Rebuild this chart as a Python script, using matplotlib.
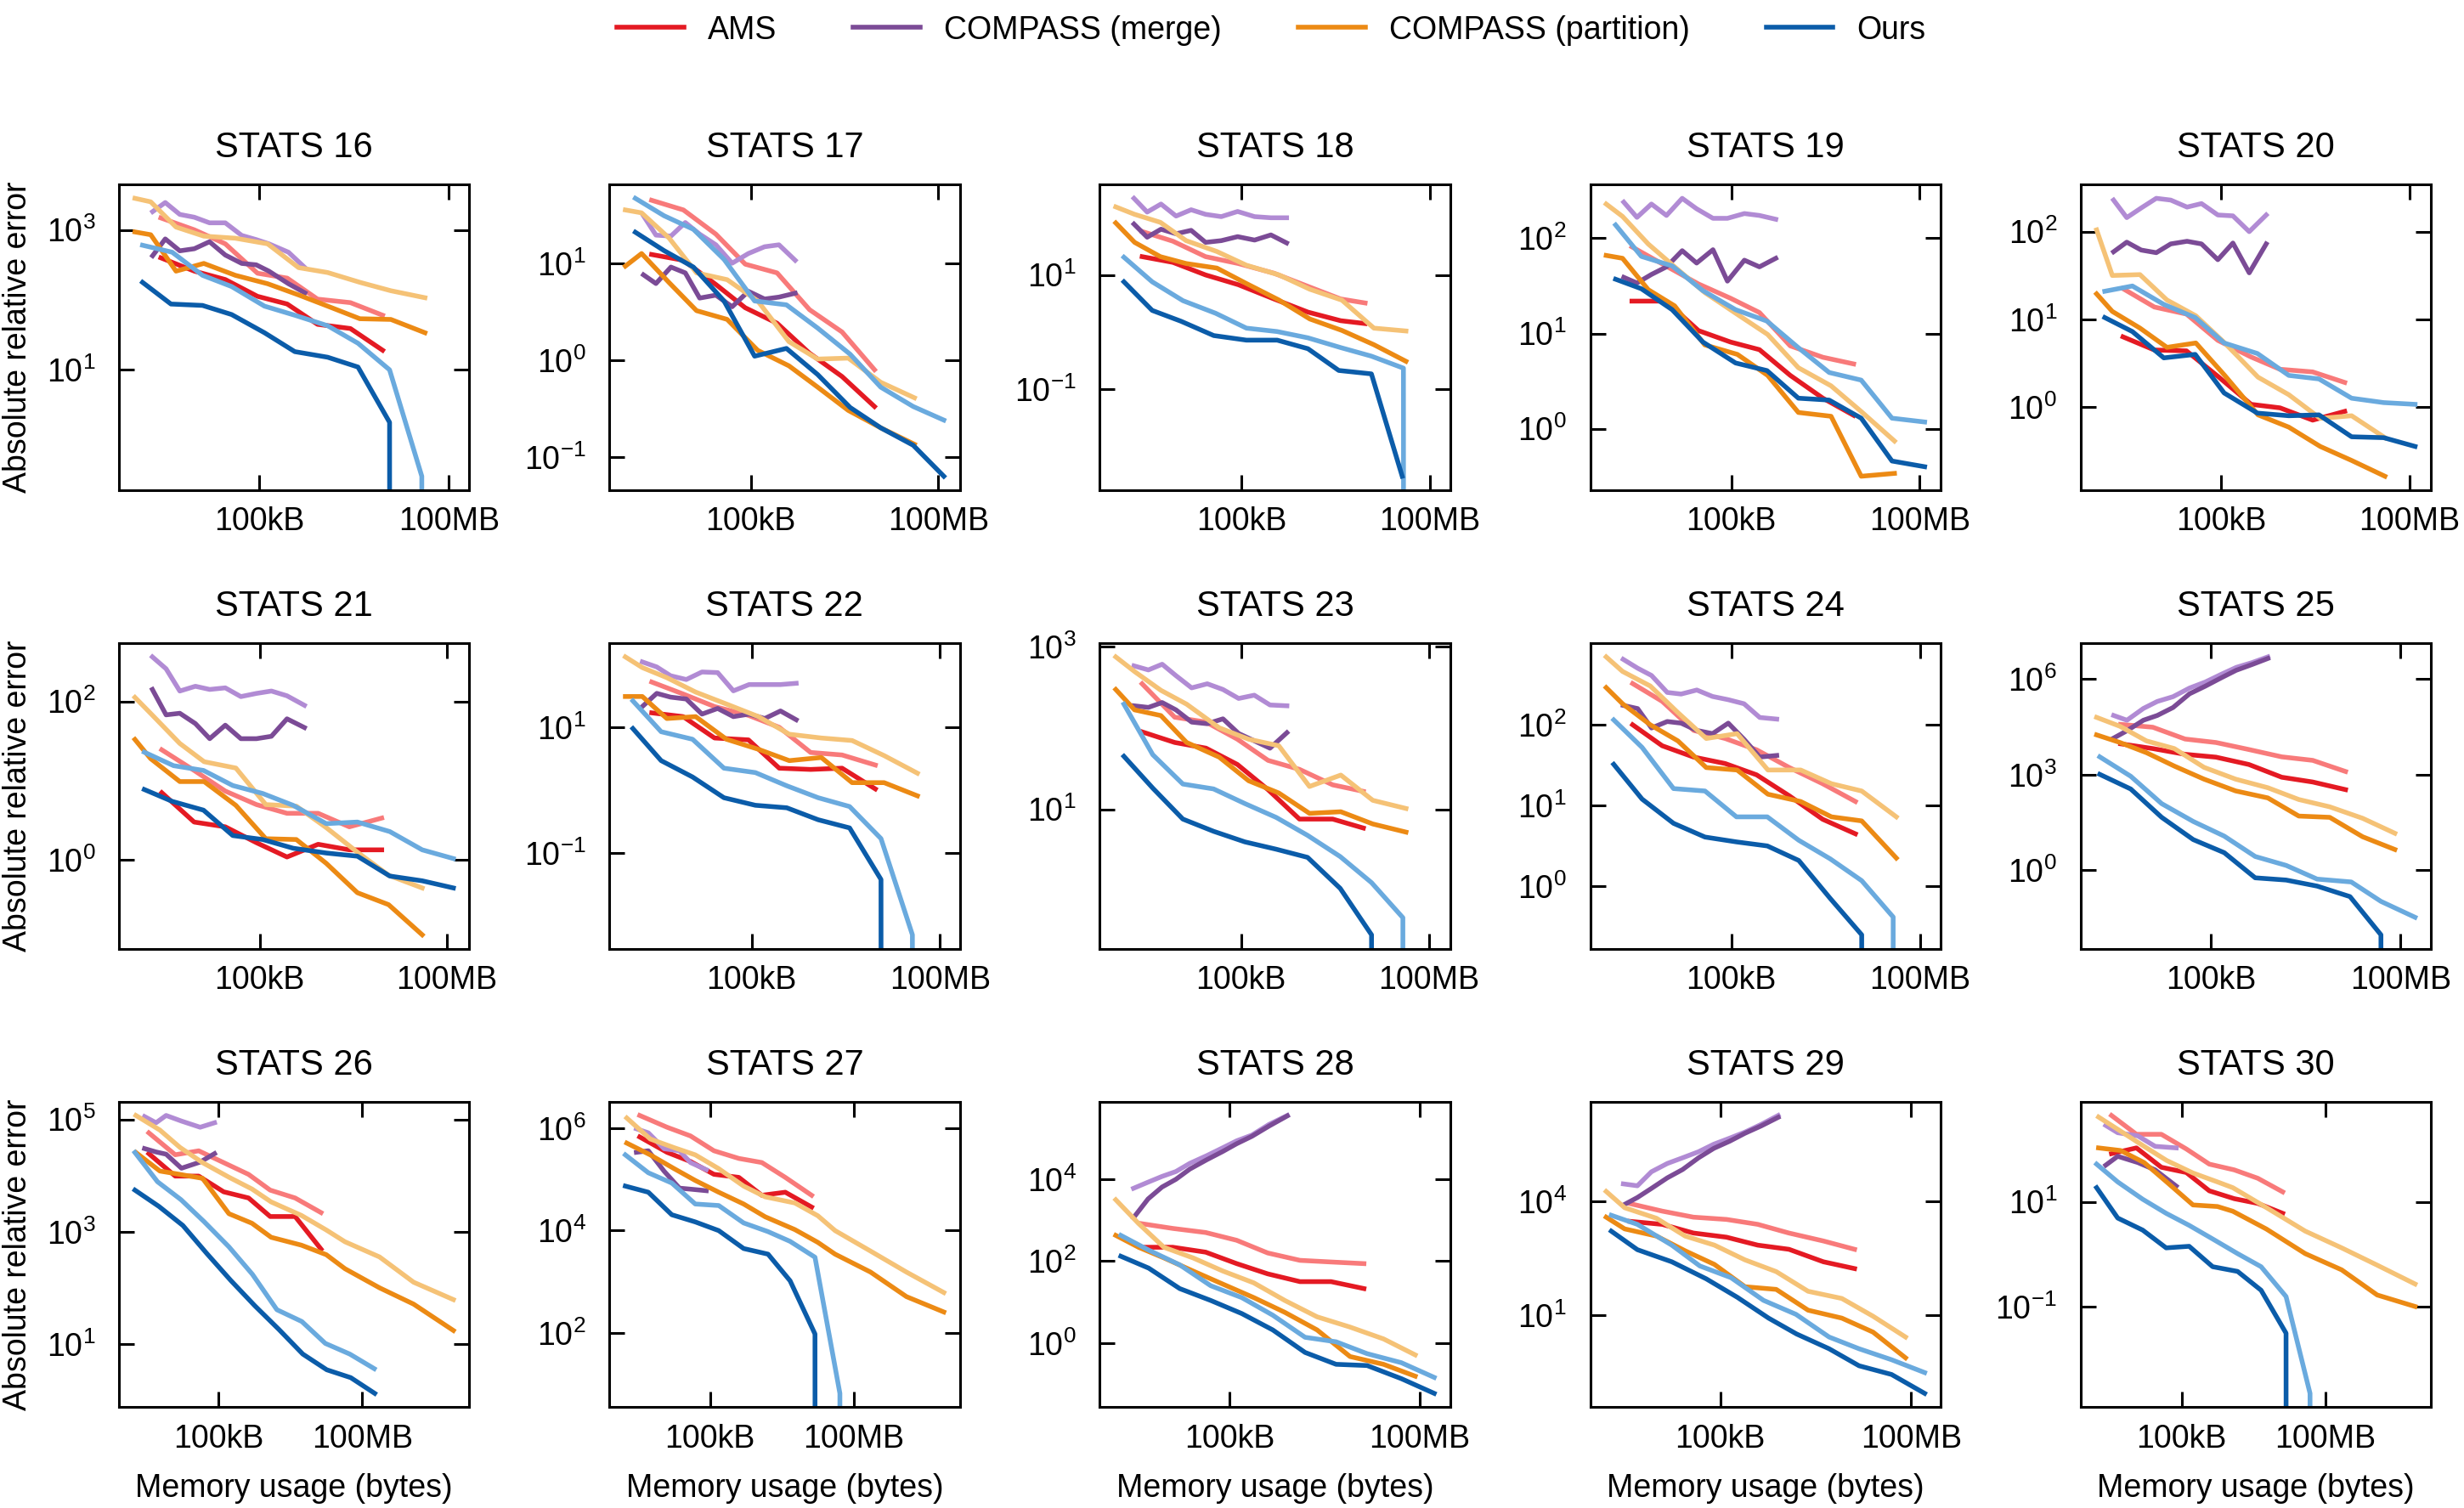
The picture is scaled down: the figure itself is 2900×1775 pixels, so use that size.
import numpy as np
import matplotlib
matplotlib.use("Agg")
import matplotlib.pyplot as plt
from matplotlib.ticker import FixedLocator, NullLocator, FuncFormatter

Z = -np.inf  # log10 of an error that is exactly zero

panels = [16, 17, 18, 19, 20, 21, 22, 23, 24, 25, 26, 27, 28, 29, 30]
method_names = ["AMS", "COMPASS (merge)", "COMPASS (partition)", "Ours"]
xtick_values = [1e5, 1e8]
xtick_labels = ["100kB", "100MB"]
ytick_exponents = [[1, 3], [-1, 0, 1], [-1, 1], [0, 1, 2], [0, 1, 2],
                   [0, 2], [-1, 1], [1, 3], [0, 1, 2], [0, 3, 6],
                   [1, 3, 5], [2, 4, 6], [0, 2, 4], [1, 4], [-1, 1]]

# ---- values: log10(memory in bytes), log10(absolute relative error)
ams_logmem = [
    [3.44, 3.97, 4.46, 4.97, 5.44, 5.92, 6.44, 6.95],
    [3.41, 3.92, 4.44, 4.91, 5.42, 5.94, 6.46, 6.98],
    [3.42, 3.91, 4.43, 4.95, 5.52, 6.06, 6.58, 6.97],
    [3.42, 3.96, 4.48, 4.99, 5.45, 5.94, 6.46, 6.95],
    [3.44, 3.94, 4.45, 4.95, 5.48, 5.94, 6.46, 6.97],
    [3.43, 3.95, 4.45, 4.95, 5.44, 5.94, 6.44, 6.96],
    [3.41, 3.91, 4.41, 4.95, 5.44, 5.94, 6.44, 6.97],
    [3.42, 3.94, 4.44, 4.94, 5.43, 5.93, 6.46, 6.95],
    [3.43, 3.90, 4.40, 4.90, 5.40, 5.92, 6.45, 6.97],
    [3.57, 4.08, 4.59, 5.08, 5.60, 6.12, 6.61, 7.13],
    [3.55, 4.10, 4.59, 5.11, 5.63, 6.08, 6.60, 7.14],
    [3.53, 4.10, 4.59, 5.08, 5.60, 6.08, 6.57, 7.12],
    [3.59, 4.10, 4.62, 5.11, 5.60, 6.11, 6.60, 7.12],
    [3.58, 4.09, 4.58, 5.10, 5.59, 6.08, 6.62, 7.11],
    [3.54, 4.06, 4.58, 5.10, 5.58, 6.10, 6.59, 7.11],
]
ams_light_logerr = [
    [3.17, 3.00, 2.80, 2.38, 2.31, 2.01, 1.96, 1.78],
    [1.65, 1.55, 1.30, 0.99, 0.90, 0.52, 0.29, -0.10],
    [1.76, 1.59, 1.32, 1.20, 1.03, 0.80, 0.58, 0.51],
    [1.91, 1.71, 1.52, 1.37, 1.22, 0.87, 0.75, 0.68],
    [1.35, 1.14, 1.06, 0.76, 0.57, 0.43, 0.40, 0.28],
    [1.39, 1.13, 0.87, 0.70, 0.59, 0.59, 0.42, 0.53],
    [1.72, 1.53, 1.33, 1.19, 1.00, 0.60, 0.56, 0.40],
    [2.54, 2.13, 2.07, 1.86, 1.60, 1.49, 1.30, 1.22],
    [2.51, 2.29, 1.93, 1.83, 1.69, 1.47, 1.27, 1.05],
    [4.58, 4.49, 4.12, 4.01, 3.79, 3.56, 3.45, 3.10],
    [4.76, 4.37, 4.44, 4.23, 4.02, 3.74, 3.60, 3.34],
    [6.25, 6.02, 5.85, 5.56, 5.41, 5.33, 5.04, 4.69],
    [2.92, 2.80, 2.70, 2.51, 2.20, 2.02, 1.98, 1.94],
    [3.95, 3.75, 3.59, 3.53, 3.40, 3.17, 2.96, 2.74],
    [2.65, 2.29, 2.29, 2.01, 1.72, 1.61, 1.45, 1.19],
]
ams_dark_logerr = [
    [2.60, 2.41, 2.29, 2.05, 1.94, 1.65, 1.59, 1.28],
    [1.09, 1.03, 0.78, 0.54, 0.38, 0.07, -0.17, -0.48],
    [1.32, 1.22, 1.00, 0.83, 0.58, 0.35, 0.20, 0.15],
    [1.34, 1.34, 1.03, 0.91, 0.83, 0.56, 0.32, 0.14],
    [0.80, 0.65, 0.64, 0.35, 0.03, -0.01, -0.15, -0.05],
    [0.85, 0.48, 0.42, 0.22, 0.04, 0.20, 0.13, 0.13],
    [1.23, 1.17, 0.83, 0.80, 0.35, 0.33, 0.35, 0.02],
    [1.95, 1.82, 1.75, 1.55, 1.24, 0.88, 0.88, 0.77],
    [2.00, 1.74, 1.60, 1.52, 1.38, 1.12, 0.83, 0.65],
    [3.97, 3.82, 3.64, 3.55, 3.32, 2.92, 2.77, 2.53],
    [4.39, 3.99, 3.99, 3.71, 3.60, 3.27, 3.27, 2.69],
    [5.83, 5.53, 5.35, 5.10, 5.04, 4.69, 4.75, 4.46],
    [2.34, 2.34, 2.22, 1.94, 1.69, 1.50, 1.50, 1.33],
    [3.48, 3.40, 3.17, 3.06, 2.85, 2.74, 2.41, 2.23],
    [1.92, 2.03, 1.66, 1.56, 1.21, 1.06, 0.97, 0.78],
]

merge_logmem = [
    [3.31, 3.51, 3.74, 3.97, 4.21, 4.46, 4.72, 4.95, 5.15, 5.46, 5.72],
    [3.28, 3.48, 3.72, 3.95, 4.18, 4.44, 4.70, 4.96, 5.22, 5.45, 5.71],
    [3.29, 3.50, 3.72, 3.96, 4.20, 4.43, 4.68, 4.94, 5.21, 5.47, 5.72],
    [3.29, 3.50, 3.73, 3.97, 4.22, 4.45, 4.71, 4.94, 5.21, 5.45, 5.71],
    [3.29, 3.50, 3.73, 3.97, 4.20, 4.46, 4.69, 4.95, 5.19, 5.45, 5.72],
    [3.28, 3.50, 3.72, 3.97, 4.20, 4.45, 4.70, 4.95, 5.19, 5.44, 5.72],
    [3.26, 3.49, 3.71, 3.96, 4.21, 4.46, 4.71, 4.96, 5.21, 5.46, 5.71],
    [3.29, 3.52, 3.74, 3.96, 4.21, 4.46, 4.71, 4.96, 5.21, 5.46, 5.73],
    [3.28, 3.51, 3.73, 3.98, 4.20, 4.45, 4.70, 4.95, 5.20, 5.45, 5.72],
    [3.46, 3.67, 3.93, 4.15, 4.40, 4.66, 4.91, 5.16, 5.40, 5.65, 5.90],
    [3.46, 3.70, 3.91, 4.23, 4.62, 4.92],
    [3.46, 3.71, 4.04, 4.36, 4.59, 4.92],
    [3.48, 3.71, 3.93, 4.15, 4.37, 4.64, 4.89, 5.11, 5.35, 5.62, 5.91],
    [3.48, 3.70, 3.92, 4.17, 4.41, 4.66, 4.90, 5.15, 5.39, 5.64, 5.91],
    [3.42, 3.67, 4.09, 4.45, 4.89],
]
merge_light_logerr = [
    [3.26, 3.39, 3.22, 3.18, 3.10, 3.10, 2.92, 2.86, 2.80, 2.68, 2.46],
    [1.49, 1.29, 1.28, 1.42, 1.30, 1.19, 1.00, 1.10, 1.17, 1.19, 1.03],
    [2.34, 2.10, 2.24, 2.03, 2.14, 2.06, 2.02, 2.11, 2.02, 2.00, 2.00],
    [2.38, 2.22, 2.36, 2.24, 2.42, 2.31, 2.21, 2.21, 2.26, 2.24, 2.20],
    [2.36, 2.16, 2.27, 2.38, 2.36, 2.28, 2.32, 2.19, 2.18, 2.00, 2.19],
    [2.56, 2.41, 2.13, 2.19, 2.15, 2.17, 2.06, 2.10, 2.13, 2.07, 1.95],
    [2.04, 1.96, 1.82, 1.76, 1.88, 1.87, 1.58, 1.68, 1.68, 1.68, 1.70],
    [2.76, 2.71, 2.78, 2.64, 2.49, 2.54, 2.47, 2.36, 2.40, 2.28, 2.27],
    [2.81, 2.70, 2.61, 2.40, 2.38, 2.43, 2.35, 2.31, 2.26, 2.09, 2.07],
    [4.86, 4.71, 5.08, 5.30, 5.45, 5.72, 5.91, 6.15, 6.37, 6.52, 6.70],
    [5.05, 4.94, 5.07, 4.97, 4.86, 4.94],
    [5.99, 5.91, 5.60, 5.56, 5.33, 5.19],
    [3.78, 3.93, 4.07, 4.19, 4.39, 4.58, 4.77, 4.94, 5.08, 5.34, 5.56],
    [4.47, 4.42, 4.79, 5.01, 5.16, 5.32, 5.52, 5.68, 5.84, 6.04, 6.28],
    [2.46, 2.32, 2.26, 2.06, 2.03],
]
merge_dark_logerr = [
    [2.63, 2.87, 2.70, 2.73, 2.83, 2.64, 2.52, 2.50, 2.41, 2.23, 2.10],
    [0.88, 0.79, 0.96, 0.90, 0.64, 0.67, 0.55, 0.71, 0.63, 0.65, 0.69],
    [1.89, 1.66, 1.80, 1.72, 1.78, 1.57, 1.60, 1.67, 1.61, 1.70, 1.56],
    [1.59, 1.53, 1.62, 1.70, 1.87, 1.74, 1.88, 1.55, 1.77, 1.70, 1.79],
    [1.77, 1.88, 1.79, 1.76, 1.86, 1.89, 1.86, 1.68, 1.87, 1.53, 1.86],
    [2.15, 1.83, 1.85, 1.72, 1.53, 1.70, 1.53, 1.53, 1.56, 1.78, 1.67],
    [1.33, 1.54, 1.48, 1.45, 1.21, 1.30, 1.17, 1.21, 1.14, 1.26, 1.12],
    [2.27, 2.25, 2.31, 2.22, 2.07, 2.05, 2.11, 1.93, 1.84, 1.75, 1.94],
    [2.24, 2.20, 1.96, 2.04, 2.02, 1.93, 1.89, 2.02, 1.82, 1.60, 1.62],
    [4.15, 4.38, 4.71, 4.86, 5.11, 5.54, 5.78, 6.04, 6.28, 6.46, 6.65],
    [4.48, 4.42, 4.38, 4.13, 4.24, 4.39],
    [5.53, 5.56, 5.16, 4.83, 4.81, 4.78],
    [3.06, 3.52, 3.81, 4.00, 4.25, 4.48, 4.68, 4.87, 5.05, 5.30, 5.55],
    [3.91, 4.11, 4.35, 4.63, 4.85, 5.16, 5.41, 5.60, 5.81, 6.00, 6.23],
    [1.70, 1.87, 1.75, 1.61, 1.30],
]

partition_logmem = [
    [3.03, 3.28, 3.68, 4.12, 4.62, 5.13, 5.62, 6.08, 6.59, 7.08, 7.62],
    [2.99, 3.25, 3.69, 4.13, 4.62, 5.11, 5.61, 6.07, 6.56, 7.08, 7.62],
    [3.00, 3.30, 3.71, 4.12, 4.61, 5.08, 5.60, 6.09, 6.60, 7.11, 7.62],
    [3.01, 3.27, 3.68, 4.10, 4.58, 5.10, 5.58, 6.07, 6.59, 7.07, 7.60],
    [3.02, 3.27, 3.71, 4.14, 4.60, 5.06, 5.59, 6.08, 6.58, 7.08, 7.61],
    [3.00, 3.25, 3.72, 4.11, 4.62, 5.10, 5.59, 6.07, 6.57, 7.07, 7.61],
    [2.99, 3.26, 3.65, 4.11, 4.60, 5.11, 5.60, 6.11, 6.60, 7.11, 7.64],
    [3.00, 3.30, 3.72, 4.13, 4.65, 5.12, 5.60, 6.09, 6.59, 7.10, 7.63],
    [3.01, 3.27, 3.71, 4.15, 4.60, 5.09, 5.58, 6.10, 6.59, 7.07, 7.62],
    [3.19, 3.56, 3.98, 4.42, 4.89, 5.39, 5.90, 6.39, 6.88, 7.40, 7.91],
    [3.28, 3.78, 4.20, 4.67, 5.22, 5.70, 6.10, 6.73, 7.25, 7.64, 8.36, 9.07, 9.90],
    [3.26, 3.75, 4.25, 4.69, 5.18, 5.70, 6.15, 6.77, 7.25, 7.61, 8.35, 9.10, 9.88],
    [3.20, 3.56, 3.96, 4.42, 4.89, 5.38, 5.87, 6.38, 6.90, 7.43, 7.93],
    [3.21, 3.50, 4.00, 4.45, 4.91, 5.39, 5.88, 6.38, 6.91, 7.40, 7.91],
    [3.27, 3.73, 4.22, 4.69, 5.24, 5.75, 6.07, 6.77, 7.58, 8.34, 9.08, 9.87],
]
partition_light_logerr = [
    [3.45, 3.40, 3.04, 2.91, 2.88, 2.80, 2.46, 2.39, 2.25, 2.13, 2.03],
    [1.55, 1.52, 1.26, 0.90, 0.83, 0.61, 0.19, 0.01, 0.02, -0.23, -0.39],
    [2.19, 2.06, 1.92, 1.60, 1.41, 1.17, 1.00, 0.75, 0.56, 0.07, 0.02],
    [2.36, 2.23, 1.94, 1.70, 1.43, 1.20, 0.99, 0.64, 0.45, 0.18, -0.13],
    [2.02, 1.50, 1.51, 1.22, 1.04, 0.73, 0.34, 0.14, -0.13, -0.10, -0.35],
    [2.05, 1.85, 1.47, 1.24, 1.16, 0.70, 0.68, 0.41, 0.10, -0.19, -0.35],
    [2.12, 1.95, 1.79, 1.56, 1.37, 1.17, 0.89, 0.83, 0.79, 0.55, 0.27],
    [2.87, 2.69, 2.46, 2.29, 2.00, 1.86, 1.78, 1.28, 1.42, 1.11, 1.01],
    [2.84, 2.66, 2.48, 2.15, 1.83, 1.89, 1.44, 1.44, 1.27, 1.18, 0.86],
    [4.80, 4.52, 4.06, 3.82, 3.23, 2.86, 2.59, 2.22, 1.99, 1.63, 1.16],
    [5.07, 4.81, 4.50, 4.23, 3.97, 3.76, 3.53, 3.29, 3.03, 2.82, 2.55, 2.10, 1.79],
    [6.20, 5.79, 5.62, 5.48, 5.21, 4.87, 4.66, 4.54, 4.29, 4.00, 3.60, 3.19, 2.79],
    [3.50, 2.92, 2.34, 2.08, 1.76, 1.47, 1.04, 0.64, 0.39, 0.10, -0.29],
    [4.27, 3.84, 3.56, 3.09, 2.85, 2.46, 2.15, 1.63, 1.44, 0.97, 0.42],
    [2.62, 2.35, 2.06, 1.79, 1.55, 1.38, 1.27, 0.89, 0.44, 0.12, -0.21, -0.57],
]
partition_dark_logerr = [
    [2.97, 2.93, 2.41, 2.52, 2.35, 2.23, 2.07, 1.91, 1.73, 1.72, 1.53],
    [0.97, 1.10, 0.80, 0.51, 0.42, 0.10, -0.06, -0.28, -0.52, -0.70, -0.87],
    [1.91, 1.57, 1.32, 1.20, 1.12, 0.85, 0.56, 0.23, 0.03, -0.22, -0.51],
    [1.82, 1.79, 1.46, 1.29, 0.88, 0.78, 0.56, 0.17, 0.13, -0.50, -0.47],
    [1.29, 1.09, 0.90, 0.68, 0.73, 0.36, -0.09, -0.23, -0.45, -0.61, -0.79],
    [1.52, 1.28, 0.99, 0.99, 0.69, 0.27, 0.26, -0.04, -0.41, -0.56, -0.94],
    [1.49, 1.49, 1.14, 1.17, 0.81, 0.65, 0.47, 0.52, 0.12, 0.12, -0.09],
    [2.47, 2.22, 2.15, 1.82, 1.64, 1.35, 1.20, 0.95, 0.97, 0.82, 0.72],
    [2.46, 2.26, 2.00, 1.80, 1.47, 1.44, 1.14, 1.05, 0.86, 0.81, 0.35],
    [4.25, 4.01, 3.69, 3.27, 2.86, 2.49, 2.27, 1.70, 1.66, 1.05, 0.65],
    [4.41, 4.08, 4.02, 3.95, 3.32, 3.15, 2.90, 2.76, 2.59, 2.34, 2.00, 1.71, 1.24],
    [5.71, 5.48, 5.21, 4.98, 4.75, 4.52, 4.27, 4.02, 3.77, 3.54, 3.19, 2.71, 2.41],
    [2.63, 2.34, 2.08, 1.76, 1.44, 1.11, 0.75, 0.32, -0.33, -0.52, -0.81],
    [3.59, 3.28, 3.09, 2.70, 2.34, 1.75, 1.68, 1.13, 0.92, 0.55, -0.13],
    [2.03, 1.98, 1.75, 1.38, 0.94, 0.91, 0.82, 0.48, 0.01, -0.30, -0.78, -1.00],
]

ours_light_logmem = [
    [3.15, 3.62, 4.10, 4.56, 5.08, 5.56, 6.08, 6.56, 7.06, 7.57, 8.07],
    [3.15, 3.61, 4.08, 4.57, 5.06, 5.57, 6.07, 6.59, 7.08, 7.60, 8.09],
    [3.13, 3.58, 4.07, 4.59, 5.08, 5.57, 6.06, 6.58, 7.07, 7.58, 8.07],
    [3.16, 3.57, 4.06, 4.55, 5.07, 5.57, 6.07, 6.56, 7.07, 7.56, 8.08],
    [3.15, 3.59, 4.09, 4.59, 5.05, 5.58, 6.08, 6.56, 7.08, 7.59, 8.09],
    [3.15, 3.62, 4.10, 4.57, 5.05, 5.54, 6.07, 6.57, 7.09, 7.61, 8.11],
    [3.11, 3.56, 4.06, 4.56, 5.06, 5.56, 6.06, 6.56, 7.06, 7.56, 8.06],
    [3.13, 3.59, 4.07, 4.56, 5.06, 5.56, 6.06, 6.58, 7.08, 7.58, 8.08],
    [3.13, 3.58, 4.08, 4.58, 5.08, 5.57, 6.07, 6.57, 7.07, 7.57, 8.07],
    [3.24, 3.73, 4.22, 4.72, 5.21, 5.70, 6.19, 6.68, 7.22, 7.69, 8.23],
    [3.26, 3.73, 4.22, 4.70, 5.22, 5.71, 6.22, 6.74, 7.23, 7.74, 8.25],
    [3.23, 3.71, 4.20, 4.69, 5.18, 5.70, 6.21, 6.67, 7.19, 7.71, 8.21],
    [3.28, 3.72, 4.21, 4.70, 5.19, 5.68, 6.19, 6.68, 7.17, 7.71, 8.23],
    [3.29, 3.70, 4.24, 4.68, 5.17, 5.68, 6.19, 6.71, 7.18, 7.69, 8.21],
    [3.23, 3.67, 4.19, 4.68, 5.16, 5.65, 6.17, 6.66, 7.18, 7.68, 8.19],
]
ours_light_logerr = [
    [2.78, 2.68, 2.35, 2.19, 1.91, 1.78, 1.63, 1.38, 1.00, -0.52, Z],
    [1.67, 1.49, 1.35, 1.04, 0.61, 0.57, 0.33, 0.06, -0.28, -0.48, -0.62],
    [1.31, 0.88, 0.55, 0.33, 0.07, 0.01, -0.10, -0.27, -0.42, -0.63, Z],
    [2.14, 1.81, 1.71, 1.45, 1.25, 1.13, 0.85, 0.59, 0.51, 0.11, 0.07],
    [1.32, 1.38, 1.17, 1.02, 0.73, 0.61, 0.36, 0.32, 0.10, 0.05, 0.03],
    [1.36, 1.19, 1.13, 0.94, 0.84, 0.69, 0.46, 0.48, 0.36, 0.13, 0.02],
    [1.42, 0.93, 0.81, 0.35, 0.28, 0.07, -0.12, -0.26, -0.77, -2.30, Z],
    [2.29, 1.67, 1.31, 1.25, 1.07, 0.90, 0.68, 0.42, 0.10, -0.33, Z],
    [2.06, 1.72, 1.21, 1.18, 0.86, 0.86, 0.57, 0.34, 0.07, -0.38, Z],
    [3.56, 2.95, 2.09, 1.53, 1.07, 0.43, 0.15, -0.28, -0.37, -0.98, -1.48],
    [4.41, 3.89, 3.57, 3.18, 2.73, 2.24, 1.61, 1.40, 1.01, 0.82, 0.56],
    [5.48, 5.13, 4.93, 4.52, 4.49, 4.15, 3.98, 3.79, 3.48, 0.82, Z],
    [2.63, 2.27, 1.91, 1.40, 1.11, 0.68, 0.14, 0.03, -0.26, -0.48, -0.84],
    [3.64, 3.40, 2.85, 2.30, 1.99, 1.39, 1.02, 0.42, 0.11, -0.18, -0.52],
    [1.72, 1.38, 1.05, 0.78, 0.55, 0.29, 0.01, -0.24, -0.81, -2.66, Z],
]
ours_dark_logmem = [
    [3.15, 3.60, 4.10, 4.56, 5.08, 5.56, 6.08, 6.56, 7.06, 7.56],
    [3.15, 3.61, 4.08, 4.57, 5.06, 5.57, 6.07, 6.59, 7.08, 7.60, 8.09],
    [3.13, 3.58, 4.04, 4.56, 5.08, 5.57, 6.06, 6.55, 7.07, 7.56],
    [3.16, 3.57, 4.06, 4.55, 5.07, 5.57, 6.07, 6.56, 7.07, 7.56, 8.08],
    [3.15, 3.59, 4.09, 4.59, 5.05, 5.58, 6.08, 6.56, 7.08, 7.59, 8.09],
    [3.15, 3.60, 4.10, 4.57, 5.05, 5.54, 6.07, 6.57, 7.09, 7.61, 8.11],
    [3.11, 3.56, 4.06, 4.56, 5.06, 5.56, 6.06, 6.56, 7.06, 7.56],
    [3.13, 3.59, 4.07, 4.56, 5.06, 5.56, 6.06, 6.58, 7.08, 7.58],
    [3.13, 3.58, 4.08, 4.58, 5.08, 5.57, 6.07, 6.57, 7.07, 7.57],
    [3.24, 3.73, 4.22, 4.72, 5.21, 5.70, 6.19, 6.68, 7.20, 7.69, 8.20],
    [3.26, 3.76, 4.26, 4.76, 5.26, 5.76, 6.26, 6.76, 7.26, 7.76, 8.26],
    [3.23, 3.71, 4.20, 4.69, 5.18, 5.70, 6.21, 6.67, 7.19, 7.71],
    [3.28, 3.72, 4.21, 4.70, 5.19, 5.68, 6.19, 6.68, 7.17, 7.71, 8.23],
    [3.29, 3.70, 4.24, 4.78, 5.27, 5.76, 6.20, 6.71, 7.18, 7.69, 8.21],
    [3.23, 3.67, 4.19, 4.68, 5.16, 5.65, 6.17, 6.66, 7.18, 7.68],
]
ours_dark_logerr = [
    [2.25, 1.94, 1.92, 1.79, 1.53, 1.26, 1.18, 1.04, 0.25, Z],
    [1.32, 1.13, 0.96, 0.61, 0.04, 0.12, -0.15, -0.49, -0.70, -0.88, -1.20],
    [0.88, 0.38, 0.19, -0.06, -0.14, -0.14, -0.29, -0.67, -0.73, -2.52],
    [1.57, 1.47, 1.25, 0.91, 0.69, 0.61, 0.32, 0.30, 0.11, -0.34, -0.40],
    [1.02, 0.86, 0.56, 0.60, 0.16, -0.07, -0.10, -0.09, -0.34, -0.35, -0.45],
    [0.89, 0.74, 0.63, 0.31, 0.26, 0.15, 0.09, 0.05, -0.20, -0.26, -0.35],
    [0.98, 0.47, 0.21, -0.12, -0.24, -0.28, -0.47, -0.60, -1.42, Z],
    [1.65, 1.26, 0.88, 0.73, 0.60, 0.51, 0.41, 0.03, -0.54, Z],
    [1.51, 1.08, 0.78, 0.61, 0.55, 0.50, 0.32, -0.15, -0.60, Z],
    [3.01, 2.55, 1.66, 0.96, 0.55, -0.24, -0.31, -0.50, -0.83, -2.03, Z],
    [3.74, 3.45, 3.11, 2.61, 2.13, 1.68, 1.26, 0.82, 0.54, 0.40, 0.12],
    [4.87, 4.75, 4.31, 4.17, 4.00, 3.65, 3.54, 3.02, 1.98, Z],
    [2.12, 1.83, 1.33, 1.04, 0.72, 0.32, -0.23, -0.52, -0.55, -0.87, -1.23],
    [3.22, 2.73, 2.41, 1.96, 1.47, 0.92, 0.50, 0.11, -0.34, -0.57, -1.07],
    [1.27, 0.69, 0.46, 0.12, 0.15, -0.24, -0.33, -0.69, -1.51, Z],
]

# ---- style
plt.rcParams["font.family"] = ["Liberation Sans", "DejaVu Sans"]
plt.rcParams["mathtext.fontset"] = "custom"
plt.rcParams["mathtext.rm"] = "Liberation Sans"
plt.rcParams["mathtext.it"] = "Liberation Sans:italic"
plt.rcParams["mathtext.bf"] = "Liberation Sans:bold"

colors = {
    "ams_d": "#e41a23", "ams_l": "#f87a7a",
    "mrg_d": "#7b4b96", "mrg_l": "#b18bd4",
    "par_d": "#ec8a14", "par_l": "#f5c276",
    "our_d": "#0b5ca9", "our_l": "#6aaade",
}

series = [
    (ams_logmem, ams_light_logerr, colors["ams_l"], None),
    (ams_logmem, ams_dark_logerr, colors["ams_d"], method_names[0]),
    (merge_logmem, merge_light_logerr, colors["mrg_l"], None),
    (merge_logmem, merge_dark_logerr, colors["mrg_d"], method_names[1]),
    (partition_logmem, partition_light_logerr, colors["par_l"], None),
    (partition_logmem, partition_dark_logerr, colors["par_d"], method_names[2]),
    (ours_light_logmem, ours_light_logerr, colors["our_l"], None),
    (ours_dark_logmem, ours_dark_logerr, colors["our_d"], method_names[3]),
]

fig, axes = plt.subplots(3, 5, figsize=(14.5, 8.875), dpi=200)
fig.subplots_adjust(left=0.0483, right=0.9866, top=0.8777, bottom=0.0668,
                    wspace=0.40, hspace=0.50)

pow_fmt = FuncFormatter(lambda v, pos: r"$\mathdefault{10^{%d}}$" % int(round(np.log10(v))))
x_fmt = FuncFormatter(lambda v, pos: xtick_labels[int(np.argmin([abs(np.log10(v) - np.log10(t)) for t in xtick_values]))])

for i, ax in enumerate(axes.flat):
    ax.set_xscale("log")
    ax.set_yscale("log", nonpositive="clip")
    for xs, ys, col, lab in series:
        x = np.power(10.0, np.array(xs[i], dtype=float))
        y = np.power(10.0, np.array(ys[i], dtype=float))
        ax.plot(x, y, color=col, lw=2.0, label=lab if i == 0 else None)
    ax.set_title(f"STATS {panels[i]}", fontsize=15, pad=11.5)
    ax.xaxis.set_major_locator(FixedLocator(xtick_values))
    ax.xaxis.set_major_formatter(x_fmt)
    ax.xaxis.set_minor_locator(NullLocator())
    ax.yaxis.set_major_locator(FixedLocator([10.0 ** e for e in ytick_exponents[i]]))
    ax.yaxis.set_major_formatter(pow_fmt)
    ax.yaxis.set_minor_locator(NullLocator())
    ax.tick_params(which="both", direction="in", top=True, right=True,
                   length=6.5, width=1.1, labelsize=13.5)
    ax.tick_params(axis="x", pad=7)
    ax.tick_params(axis="y", pad=10)
    for sp in ax.spines.values():
        sp.set_linewidth(1.1)
    if i % 5 == 0:
        ax.set_ylabel("Absolute relative error", fontsize=13.5)
        ax.yaxis.set_label_coords(-0.245, 0.5)
    if i >= 10:
        ax.set_xlabel("Memory usage (bytes)", fontsize=13.5)
        ax.xaxis.set_label_coords(0.5, -0.215)

handles, labels = axes.flat[0].get_legend_handles_labels()
fig.legend(handles, labels, loc="center", bbox_to_anchor=(0.516, 0.98), ncol=4,
           frameon=False, fontsize=13.5, handlelength=2.1, handletextpad=0.75,
           columnspacing=2.4)

fig.savefig("out.png", dpi=200)
